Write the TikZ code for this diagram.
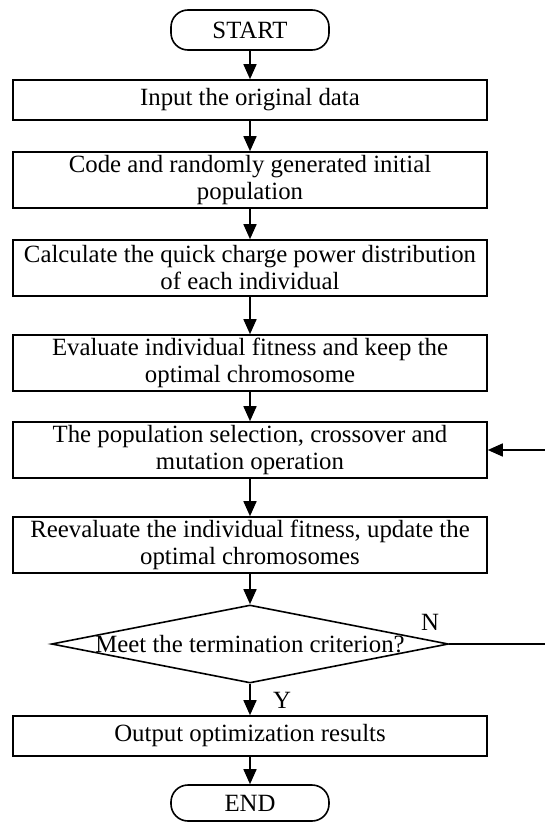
\documentclass[tikz,border=0pt]{standalone}
\usepackage{fontspec}
\setmainfont{Liberation Serif}
\usetikzlibrary{shapes.geometric,arrows.meta}

\begin{document}
\begin{tikzpicture}[x=1pt,y=-1pt,
  font=\fontsize{24.8}{27}\selectfont,
  box/.style={rectangle,draw,line width=1.6pt,minimum width=474pt,inner sep=0pt,align=center},
  term/.style={rectangle,rounded corners=17pt,draw,line width=1.6pt,minimum width=158pt,inner sep=0pt},
  flow/.style={line width=1.6pt,-{Triangle[width=13pt,length=15pt]}}]
\useasboundingbox (0,0) rectangle (545,822);

\node[term,minimum height=40pt] (start) at (250,30) {START};
\node[box,minimum height=40pt] (input) at (250,100) {Input the original data};
\node[box,minimum height=56pt] (code) at (250,180) {Code and randomly generated initial\\population};
\node[box,minimum height=56pt] (calc) at (250,268) {Calculate the quick charge power distribution\\of each individual};
\node[box,minimum height=56pt] (eval) at (250,363) {Evaluate individual fitness and keep the\\optimal chromosome};
\node[box,minimum height=56pt] (pop) at (250,450) {The population selection, crossover and\\mutation operation};
\node[box,minimum height=56pt] (reeval) at (250,545) {Reevaluate the individual fitness, update the\\optimal chromosomes};
\node[diamond,draw,line width=1.6pt,minimum width=397pt,minimum height=78pt,inner sep=0pt] (dec) at (250,644) {\makebox[0pt]{Meet the termination criterion?}};
\node[box,minimum height=40pt] (output) at (250,736) {Output optimization results};
\node[term,minimum height=36pt] (end) at (250,803) {END};

\node (n) at (430,622) {N};
\node (y) at (282,700) {Y};
\coordinate (back) at (550,450);

\draw[flow] (start) -- (input);
\draw[flow] (input) -- (code);
\draw[flow] (code) -- (calc);
\draw[flow] (calc) -- (eval);
\draw[flow] (eval) -- (pop);
\draw[flow] (pop) -- (reeval);
\draw[flow] (reeval) -- (dec);
\draw[flow] (dec) -- (output);
\draw[flow] (output) -- (end);

% N branch back to selection
\draw[flow] (dec.east) -| (back) -- (pop.east);

\end{tikzpicture}
\end{document}
